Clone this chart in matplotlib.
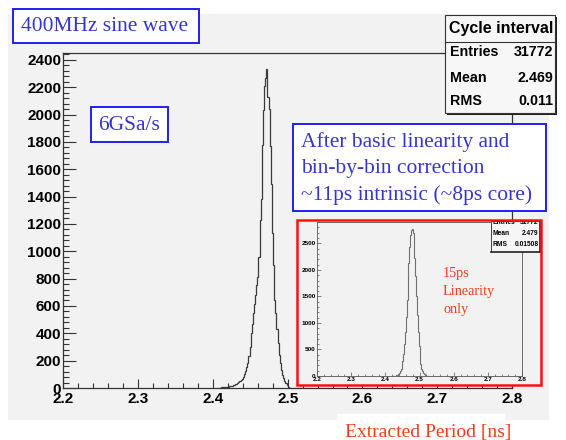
import numpy as np
import matplotlib
matplotlib.use("Agg")
import matplotlib.pyplot as plt
from matplotlib.patches import Rectangle
from matplotlib.ticker import MultipleLocator

# main histogram: cycle interval, 0.0015 ns bins starting at 2.4070
main_lo = 2.4070
main_w = 0.0015
main_counts = [2, 3, 3, 4, 5, 6, 6, 7, 8, 10, 12, 14, 16, 19, 22, 26, 30, 36, 42, 50,
               58, 68, 82, 100, 122, 150, 185, 235, 300, 400, 470, 545, 615, 680, 750, 815,
               960, 1230, 1385, 1780, 2030, 2210, 2265, 2330,
               2127, 2037, 1773, 1494, 1133, 900, 645, 550, 430, 330, 240, 180, 130, 95,
               70, 50, 34, 20, 8, 3, 1]

# inset histogram: linearity correction only, 0.0025 ns bins starting at 2.4200
ins_lo = 2.4200
ins_w = 0.0025
ins_counts = [2, 3, 5, 8, 12, 18, 27, 40, 60, 90, 135, 200, 290, 420, 600, 830,
              1110, 1430, 1780, 2130, 2440, 2660, 2750, 2765, 2690, 2500, 2220, 1880,
              1510, 1150, 830, 570, 370, 230, 140, 85, 52, 32, 20, 12, 7, 4, 2, 1]

main_stats = [("Entries", "31772"), ("Mean", "2.469"), ("RMS", "0.011")]
ins_stats = [("Entries", "31772"), ("Mean", "2.479"), ("RMS", "0.01508")]

W, H = 566, 440
SANS = "Liberation Sans"
SERIF = "Liberation Serif"
BLUE_TXT = "#3535d0"
BLUE_BOX = "#2020f0"
RED = "#ff3a1a"
CANVAS = "#f2f2f2"


def fbox(x0, y0, x1, y1):
    # pixel box (top-left origin) -> figure rect
    return [x0 / W, 1 - y1 / H, (x1 - x0) / W, (y1 - y0) / H]


fig = plt.figure(figsize=(W / 100, H / 100), dpi=100)
fig.patch.set_facecolor("white")

# background canvas
bg = fig.add_axes([0, 0, 1, 1], zorder=0)
bg.set_xlim(0, W)
bg.set_ylim(H, 0)
bg.axis("off")
bg.add_patch(Rectangle((8, 14), 541, 406, facecolor=CANVAS, edgecolor="none"))

# main histogram
ax = fig.add_axes(fbox(63.3, 53, 512, 388), zorder=1)
ax.set_facecolor("none")
edges = main_lo + main_w * np.arange(len(main_counts) + 1)
ax.stairs(main_counts, edges, color="#3a3a3a", lw=0.9)
ax.set_xlim(2.2, 2.8)
ax.set_ylim(0, 2450)
ax.xaxis.set_major_locator(MultipleLocator(0.1))
ax.xaxis.set_minor_locator(MultipleLocator(0.02))
ax.yaxis.set_major_locator(MultipleLocator(200))
ax.yaxis.set_minor_locator(MultipleLocator(40))
ax.tick_params(axis="y", which="major", direction="in", length=9, width=0.8,
               pad=1.5, labelsize=11, color="#333333")
ax.tick_params(axis="y", which="minor", direction="in", length=4.5, width=0.8,
               color="#333333")
ax.tick_params(axis="x", which="major", direction="in", length=6.5, width=0.8,
               pad=3, labelsize=11, color="#333333")
ax.tick_params(axis="x", which="minor", direction="in", length=3.3, width=0.8,
               color="#333333")
for lab in ax.get_xticklabels() + ax.get_yticklabels():
    lab.set_fontfamily(SANS)
    lab.set_fontweight("bold")
ax.set_xticks([2.2, 2.3, 2.4, 2.5, 2.6, 2.7, 2.8])
ax.set_xticklabels(["2.2", "2.3", "2.4", "2.5", "2.6", "2.7", "2.8"],
                   fontfamily=SANS, fontweight="bold")
for s in ax.spines.values():
    s.set_color("#333333")
    s.set_linewidth(0.9)

# inset panel
panel = fig.add_axes(fbox(297, 220, 541, 385), zorder=3)
panel.set_facecolor(CANVAS)
panel.set_xticks([])
panel.set_yticks([])
for s in panel.spines.values():
    s.set_visible(False)

iax = fig.add_axes(fbox(317, 222, 522, 376), zorder=4)
iax.set_facecolor("none")
iedges = ins_lo + ins_w * np.arange(len(ins_counts) + 1)
iax.stairs(ins_counts, iedges, color="#707070", lw=0.8)
iax.set_xlim(2.2, 2.8)
iax.set_ylim(0, 2903)
iax.xaxis.set_major_locator(MultipleLocator(0.1))
iax.xaxis.set_minor_locator(MultipleLocator(0.02))
iax.yaxis.set_major_locator(MultipleLocator(500))
iax.yaxis.set_minor_locator(MultipleLocator(100))
iax.tick_params(which="major", direction="in", length=3, width=0.5, pad=1,
                labelsize=4.6, color="#555555")
iax.tick_params(which="minor", direction="in", length=1.5, width=0.5, color="#555555")
for lab in iax.get_xticklabels() + iax.get_yticklabels():
    lab.set_fontfamily(SANS)
    lab.set_fontweight("bold")
for s in iax.spines.values():
    s.set_color("#555555")
    s.set_linewidth(0.6)

# inset stats box (top cut by the panel edge)
isb = fig.add_axes(fbox(491, 221.5, 540, 252), zorder=4.5)
isb.set_xlim(0, 49)
isb.set_ylim(30.5, 0)
isb.set_facecolor("#f6f6f6")
isb.set_xticks([])
isb.set_yticks([])
for name, s in isb.spines.items():
    s.set_color("#222222")
    s.set_linewidth(0.6 if name in ("left", "top") else 1.2)
for i, (k, v) in enumerate(ins_stats):
    yy = 0.5 + 11 * i
    isb.text(2, yy, k, fontsize=4.8, fontfamily=SANS, fontweight="bold",
             va="center", ha="left", clip_on=True)
    isb.text(47.5, yy, v, fontsize=4.8, fontfamily=SANS, fontweight="bold",
             va="center", ha="right", clip_on=True)

# overlay: text boxes, main stats box, red frame
ov = fig.add_axes([0, 0, 1, 1], zorder=5)
ov.set_xlim(0, W)
ov.set_ylim(H, 0)
ov.axis("off")
ov.patch.set_alpha(0)

ov.add_patch(Rectangle((297, 220), 244, 165, facecolor="none", edgecolor="#ff1010", lw=1.8))

# main stats box
ov.add_patch(Rectangle((447, 17), 110, 98, facecolor="#222222", edgecolor="none"))
ov.add_patch(Rectangle((445, 15), 110, 98, facecolor="#f7f7f7", edgecolor="#333333", lw=0.8))
ov.plot([445, 555], [41.7, 41.7], color="#333333", lw=0.8)
ov.text(501, 28, "Cycle interval", fontsize=11.5, fontfamily=SANS, fontweight="bold",
        ha="center", va="center")
for (k, v), yy in zip(main_stats, [51.7, 77.7, 101]):
    ov.text(450, yy, k, fontsize=10.3, fontfamily=SANS, fontweight="bold",
            ha="left", va="center")
    ov.text(553, yy, v, fontsize=10.3, fontfamily=SANS, fontweight="bold",
            ha="right", va="center")


def label_box(x0, y0, x1, y1, lines, tx, ty0, dy, size):
    ov.add_patch(Rectangle((x0, y0), x1 - x0, y1 - y0, facecolor="white",
                           edgecolor=BLUE_BOX, lw=1.4))
    for i, line in enumerate(lines):
        ov.text(tx, ty0 + i * dy, line, fontsize=size, fontfamily=SERIF,
                color=BLUE_TXT, ha="left", va="center")


label_box(13, 9, 199, 43, ["400MHz sine wave"], 21, 26.5, 0, 15.5)
label_box(91, 107, 168, 142, ["6GSa/s"], 98, 125, 0, 15.5)
label_box(293, 124, 546, 211,
          ["After basic linearity and", "bin-by-bin correction",
           "~11ps intrinsic (~8ps core)"], 301, 142, 26.7, 15.5)

for i, line in enumerate(["15ps", "Linearity", "only"]):
    ov.text(443, 274 + i * 17.5, line, fontsize=10.3, fontfamily=SERIF, color=RED,
            ha="left", va="center")

# x-axis title
ov.add_patch(Rectangle((337, 414), 168, 30, facecolor="white", edgecolor="none"))
ov.text(345, 432, "Extracted Period [ns]", fontsize=14, fontfamily=SERIF, color=RED,
        ha="left", va="center")

fig.savefig("out.png", dpi=100, facecolor="white")
